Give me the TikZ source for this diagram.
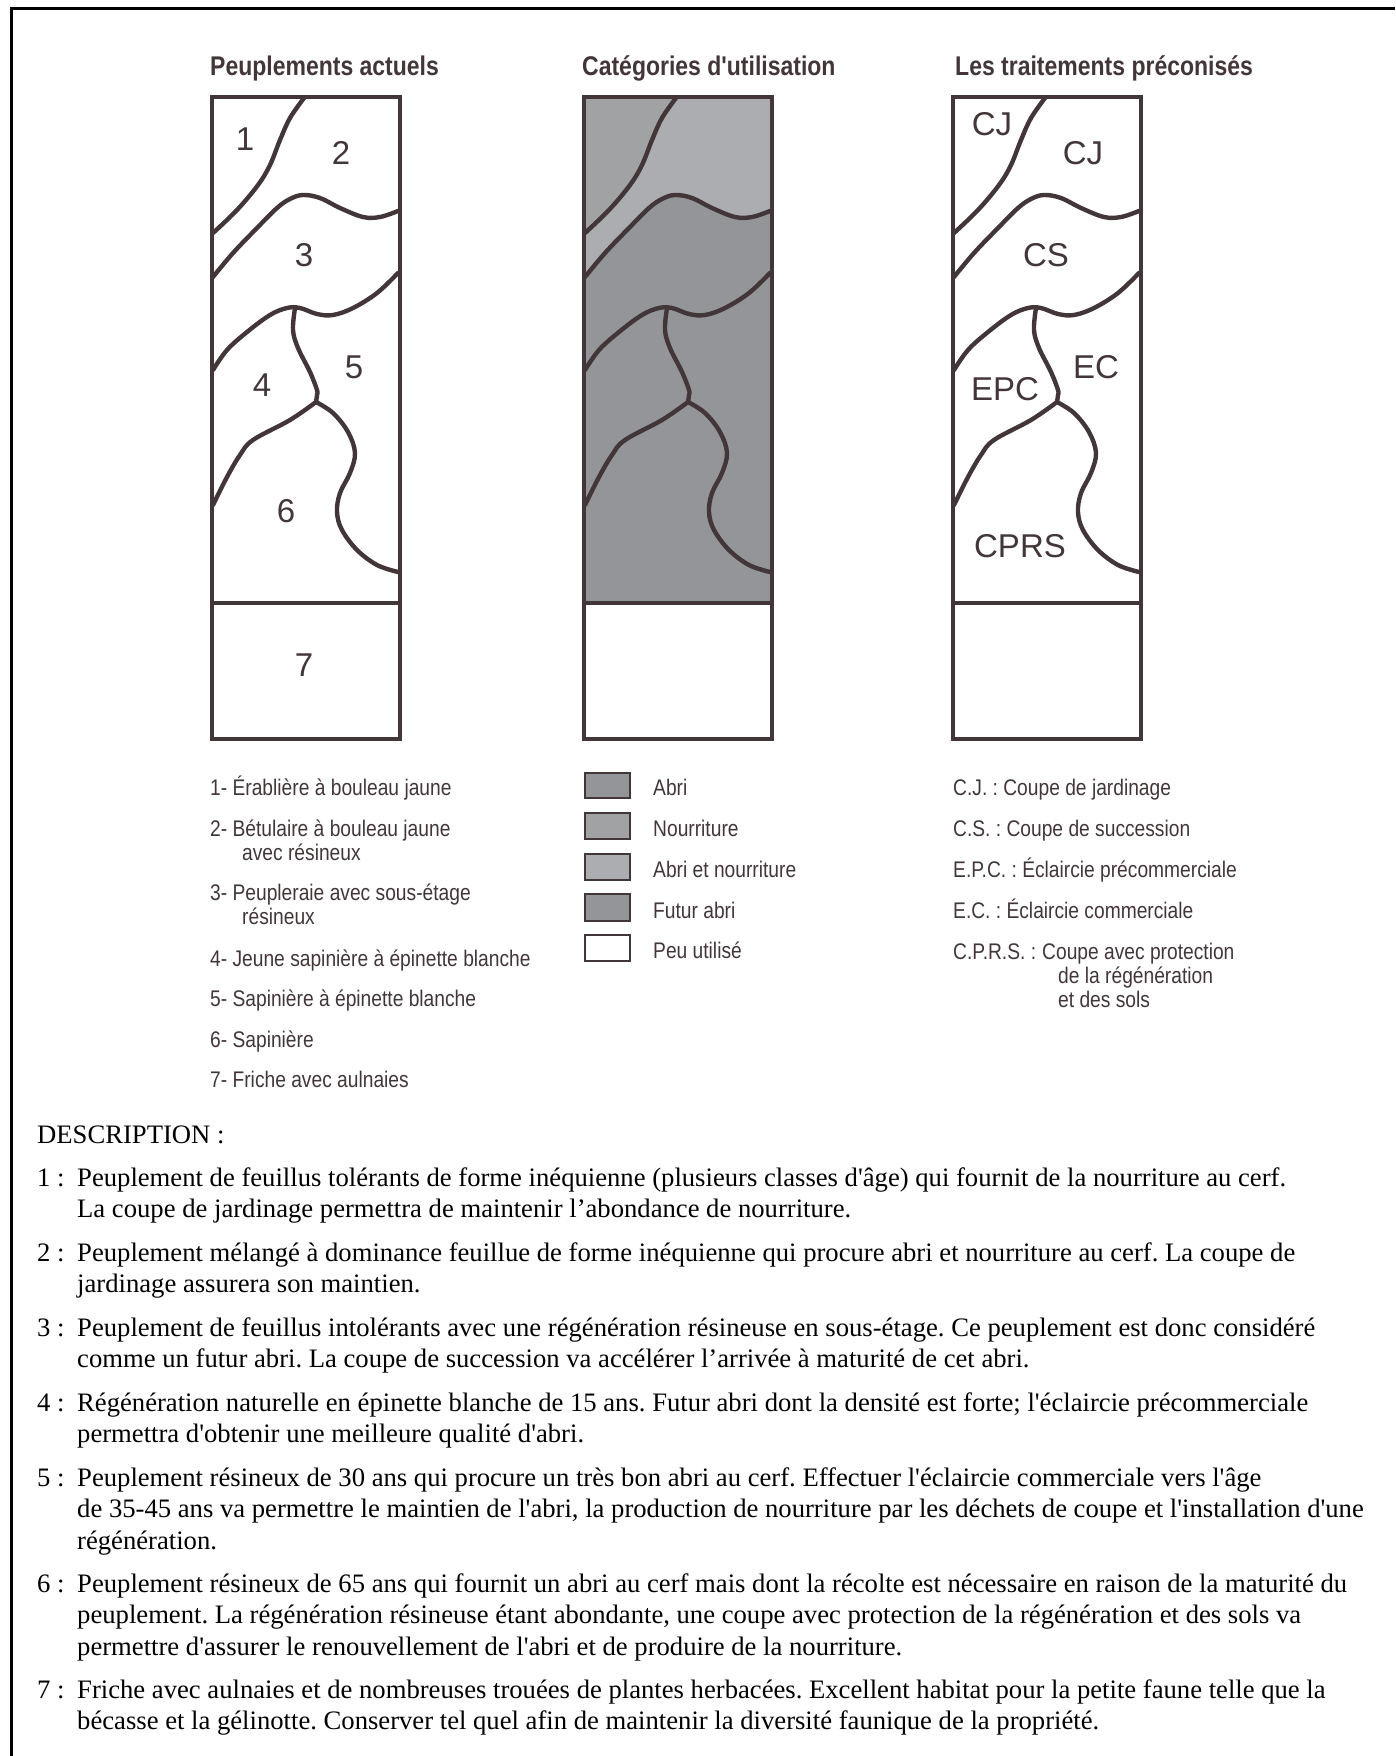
\documentclass[tikz,border=0pt]{standalone}
\usepackage{fontspec}
\setmainfont{Liberation Serif}[Ligatures=TeXOff]
\newfontfamily\narrowsans{Liberation Sans}[FakeStretch=0.85,Ligatures=TeXOff]
\newfontfamily\plainsans{Liberation Sans}
\definecolor{ink}{HTML}{433638}
\definecolor{abri}{HTML}{939598}
\definecolor{nourr}{HTML}{A0A2A4}
\definecolor{both}{HTML}{ACADB0}
\frenchspacing
\newcommand{\curveA}{(92,98) (78,118) (68,140) (58,165) (46,185) (25,210) (1,233)}
\newcommand{\curveB}{(1,277) (21,253) (45,228) (65,208) (78,199) (91,195) (108,198) (128,208) (151,217) (168,217) (186,211)}
\newcommand{\curveC}{(1,370) (15,350) (35,332) (58,315) (75,308) (88,308) (105,314) (121,315) (141,308) (165,293) (186,273)}
\newcommand{\curveD}{(83,308) (81,330) (86,348) (98,372) (105,390) (105,395) (104,402)}
\newcommand{\curveE}{(104,402) (78,420) (41,440) (28,455) (15,477) (1,505)}
\newcommand{\curveF}{(104,402) (121,413) (136,432) (143,453) (138,473) (128,493) (125,512) (130,530) (145,550) (165,565) (186,572)}
\newcommand{\boxlines}{%
  \draw[zoneline] plot[smooth,tension=0.6] coordinates {\curveA};
  \draw[zoneline] plot[smooth,tension=0.6] coordinates {\curveB};
  \draw[zoneline] plot[smooth,tension=0.6] coordinates {\curveC};
  \draw[zoneline] plot[smooth,tension=0.6] coordinates {\curveD};
  \draw[zoneline] plot[smooth,tension=0.6] coordinates {\curveE};
  \draw[zoneline] plot[smooth,tension=0.6] coordinates {\curveF};
  \draw[boxline] (0,603) -- (188,603);
  \draw[boxline] (0,97) rectangle (188,739);}
\newcommand{\lines}[1]{\begin{tabular}[t]{@{}l@{}}#1\end{tabular}}
\tikzset{
  zoneline/.style={draw=ink,line width=4.4pt,line cap=round},
  boxline/.style={draw=ink,line width=4.7pt},
  swatch/.style={draw=ink,line width=2.8pt},
  title/.style={anchor=base west,inner sep=0pt,text=ink,font=\narrowsans\bfseries\fontsize{27.05}{27.05}\selectfont},
  zonelabel/.style={anchor=base,inner sep=0pt,text=ink,font=\plainsans\fontsize{33}{33}\selectfont},
  legend/.style={anchor=base west,inner sep=0pt,text=ink,font=\narrowsans\fontsize{22.6}{24.3}\selectfont},
  body/.style={anchor=base west,inner sep=0pt,text=black,font=\fontsize{26.65}{31.7}\selectfont},
}
\begin{document}
\begin{tikzpicture}[x=1pt,y=-1pt]
\useasboundingbox (0,0) rectangle (1395,1756);
\draw[black,line width=2.6pt] (11.3,1756) -- (11.3,8.7) -- (1395,8.7);
% titles
\node[title] (t1) at (210,75) {Peuplements actuels};
\node[title] (t2) at (582,75) {Catégories d'utilisation};
\node[title] (t3) at (955,75) {Les traitements préconisés};
% box 1
\begin{scope}[xshift=212pt]
\boxlines
\end{scope}
% box 2
\begin{scope}[xshift=584pt]
\fill[abri] (0,97) rectangle (188,603);
\fill[nourr] plot[smooth,tension=0.6] coordinates {\curveA} -- (0,97) -- (92,97) -- cycle;
\fill[both] plot[smooth,tension=0.6] coordinates {\curveA} -- plot[smooth,tension=0.6] coordinates {\curveB} -- (188,211) -- (188,97) -- (92,97) -- cycle;
\boxlines
\end{scope}
% box 3
\begin{scope}[xshift=953pt]
\boxlines
\end{scope}
% zone labels
\node[zonelabel] (n1) at (245,150) {1};
\node[zonelabel] (n2) at (341,164) {2};
\node[zonelabel] (n3) at (304,266) {3};
\node[zonelabel] (n5) at (354,378) {5};
\node[zonelabel] (n4) at (262,396) {4};
\node[zonelabel] (n6) at (286,522) {6};
\node[zonelabel] (n7) at (304,676) {7};
\node[zonelabel] (c1) at (992,135) {CJ};
\node[zonelabel] (c2) at (1083,164) {CJ};
\node[zonelabel] (c3) at (1046,266) {CS};
\node[zonelabel] (c5) at (1096,378) {EC};
\node[zonelabel] (c4) at (1005,400) {EPC};
\node[zonelabel] (c6) at (1020,557) {CPRS};
% legend 1
\node[legend] (l1) at (210,795) {1- Érablière à bouleau jaune};
\node[legend] (l2) at (210,836) {\lines{2- Bétulaire à bouleau jaune\\\hspace*{32pt}avec résineux}};
\node[legend] (l3) at (210,900) {\lines{3- Peupleraie avec sous-étage\\\hspace*{32pt}résineux}};
\node[legend] (l4) at (210,966) {4- Jeune sapinière à épinette blanche};
\node[legend] (l5) at (210,1006) {5- Sapinière à épinette blanche};
\node[legend] (l6) at (210,1047) {6- Sapinière};
\node[legend] (l7) at (210,1087) {7- Friche avec aulnaies};
% legend 2
\draw[swatch,fill=abri] (585,773) rectangle (630,798);
\draw[swatch,fill=nourr] (585,813) rectangle (630,839);
\draw[swatch,fill=both] (585,854) rectangle (630,880);
\draw[swatch,fill=abri] (585,894) rectangle (630,921);
\draw[swatch,fill=white] (585,935) rectangle (630,961);
\node[legend] (m1) at (653,795) {Abri};
\node[legend] (m2) at (653,836) {Nourriture};
\node[legend] (m3) at (653,877) {Abri et nourriture};
\node[legend] (m4) at (653,918) {Futur abri};
\node[legend] (m5) at (653,958) {Peu utilisé};
% legend 3
\node[legend] (r1) at (953,795) {C.J. : Coupe de jardinage};
\node[legend] (r2) at (953,836) {C.S. : Coupe de succession};
\node[legend] (r3) at (953,877) {E.P.C. : Éclaircie précommerciale};
\node[legend] (r4) at (953,918) {E.C. : Éclaircie commerciale};
\node[legend] (r5) at (953,959) {C.P.R.S. :};
\node[legend] (r6) at (1042,959) {\lines{Coupe avec protection\\\hspace*{16pt}de la régénération\\\hspace*{16pt}et des sols}};
% description
\node[body] (d0) at (37,1143) {DESCRIPTION :};
\node[body] (d1n) at (37,1186) {1 :};
\node[body] (d1) at (77,1186) {\lines{Peuplement de feuillus tolérants de forme inéquienne (plusieurs classes d'âge) qui fournit de la nourriture au cerf.\\La coupe de jardinage permettra de maintenir l’abondance de nourriture.}};
\node[body] (d2n) at (37,1261) {2 :};
\node[body] (d2) at (77,1261) {\lines{Peuplement mélangé à dominance feuillue de forme inéquienne qui procure abri et nourriture au cerf. La coupe de\\jardinage assurera son maintien.}};
\node[body] (d3n) at (37,1336) {3 :};
\node[body] (d3) at (77,1336) {\lines{Peuplement de feuillus intolérants avec une régénération résineuse en sous-étage. Ce peuplement est donc considéré\\comme un futur abri. La coupe de succession va accélérer l’arrivée à maturité de cet abri.}};
\node[body] (d4n) at (37,1411) {4 :};
\node[body] (d4) at (77,1411) {\lines{Régénération naturelle en épinette blanche de 15 ans. Futur abri dont la densité est forte; l'éclaircie précommerciale\\permettra d'obtenir une meilleure qualité d'abri.}};
\node[body] (d5n) at (37,1486) {5 :};
\node[body] (d5) at (77,1486) {\lines{Peuplement résineux de 30 ans qui procure un très bon abri au cerf. Effectuer l'éclaircie commerciale vers l'âge\\de 35-45 ans va permettre le maintien de l'abri, la production de nourriture par les déchets de coupe et l'installation d'une\\régénération.}};
\node[body] (d6n) at (37,1592) {6 :};
\node[body] (d6) at (77,1592) {\lines{Peuplement résineux de 65 ans qui fournit un abri au cerf mais dont la récolte est nécessaire en raison de la maturité du\\peuplement. La régénération résineuse étant abondante, une coupe avec protection de la régénération et des sols va\\permettre d'assurer le renouvellement de l'abri et de produire de la nourriture.}};
\node[body] (d7n) at (37,1698) {7 :};
\node[body] (d7) at (77,1698) {\lines{Friche avec aulnaies et de nombreuses trouées de plantes herbacées. Excellent habitat pour la petite faune telle que la\\bécasse et la gélinotte. Conserver tel quel afin de maintenir la diversité faunique de la propriété.}};
\end{tikzpicture}
\end{document}
